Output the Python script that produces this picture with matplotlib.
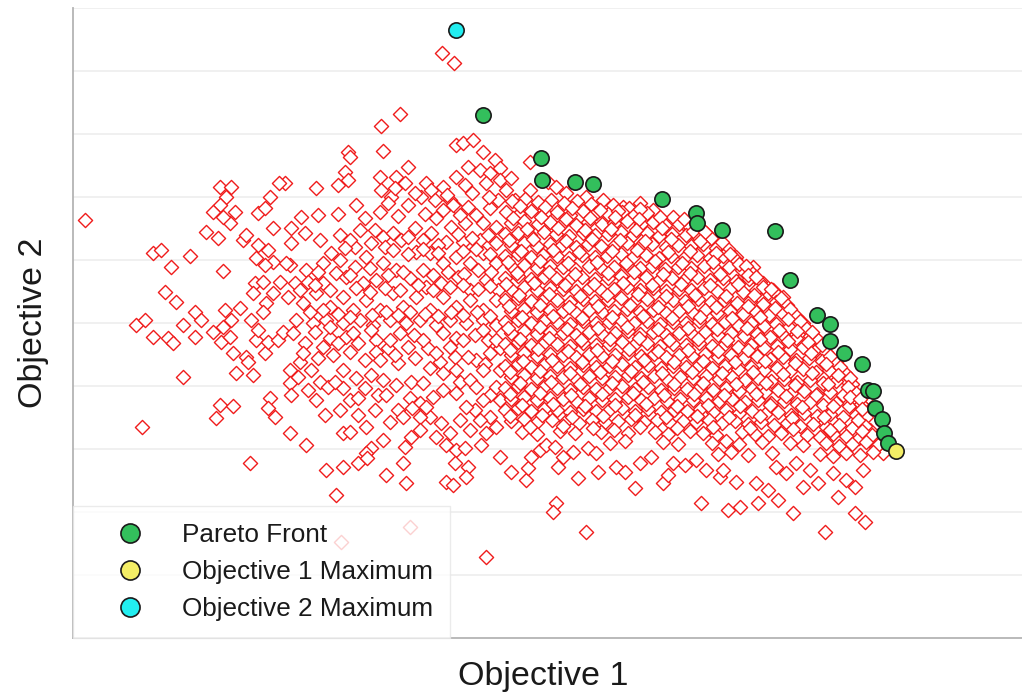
import matplotlib
matplotlib.use("Agg")
import matplotlib.pyplot as plt

# Dominated solutions: (objective 1, objective 2)
dominated = [
    # sparse top and far left
    (442, 647), (454, 637), (400, 586), (381, 574), (383, 549), (348, 548), (350, 543),
    (345, 528), (338, 515), (348, 520), (316, 512), (285, 517), (279, 517), (85, 480),
    # upper middle
    (380, 523), (396, 523), (408, 533), (405, 517), (381, 510), (391, 503), (388, 497),
    (408, 495), (395, 512), (426, 517), (431, 510), (421, 503), (443, 513), (450, 500),
    (456, 493), (435, 500), (456, 555), (463, 557), (473, 560), (483, 548), (495, 540),
    (500, 532), (468, 533), (480, 530), (456, 523), (465, 515), (490, 527), (486, 517),
    (500, 520), (356, 495), (365, 482), (360, 470), (375, 470), (383, 463), (393, 467),
    (415, 472), (431, 467), (423, 460), (443, 490), (453, 495), (468, 493), (476, 485),
    (490, 492), (498, 500), (465, 477), (483, 477), (496, 473), (451, 473), (446, 458),
    (463, 458), (480, 460), (496, 457), (301, 483), (318, 485), (291, 472), (305, 467),
    (320, 460), (291, 457), (355, 453), (371, 457), (385, 453), (401, 460), (416, 448),
    (430, 447), (366, 443), (355, 433), (383, 437), (396, 430), (443, 437), (456, 443),
    (470, 437), (483, 447), (496, 437), (331, 447), (323, 437), (336, 427), (306, 430),
    (290, 435), (295, 417), (308, 418), (323, 417), (346, 423), (363, 417), (376, 420),
    (410, 422), (423, 430), (426, 413), (441, 417), (458, 423), (470, 410), (486, 420),
    (498, 410), (288, 403), (303, 397), (316, 407), (330, 393), (343, 403), (353, 390),
    (366, 400), (380, 390), (393, 407), (403, 393), (416, 403), (430, 390), (443, 403),
    (456, 393), (470, 400), (483, 390), (496, 400), (296, 380), (313, 377), (326, 380),
    (343, 377), (360, 380), (373, 375), (390, 380), (406, 377), (420, 380), (436, 375),
    (450, 380), (466, 377), (483, 380), (496, 375),
    (415, 507), (447, 505), (472, 507), (489, 503), (338, 486), (380, 488), (398, 484),
    (425, 486), (436, 482), (460, 485), (340, 465), (350, 460), (408, 463), (438, 455),
    (458, 466), (472, 462), (488, 465), (345, 452), (393, 450), (408, 446), (423, 451),
    (438, 447), (463, 449), (476, 451), (490, 446), (318, 428), (340, 440), (350, 425),
    (370, 432), (388, 425), (403, 428), (433, 425), (448, 428), (464, 426), (478, 430),
    (491, 428), (300, 410), (315, 415), (330, 410), (356, 412), (370, 408), (385, 412),
    (400, 410), (418, 415), (433, 410), (450, 413), (463, 415), (478, 411), (490, 414),
    (310, 388), (323, 390), (338, 386), (350, 383), (372, 385), (386, 388), (398, 385),
    (410, 388), (425, 386), (438, 384), (451, 388), (463, 385), (477, 388), (490, 384),
    (305, 357), (330, 362), (346, 363), (376, 360), (388, 352), (414, 365), (428, 352),
    (456, 362), (475, 365), (488, 360), (500, 352), (300, 338), (318, 342), (333, 345),
    (350, 348), (376, 348), (398, 337), (415, 342), (440, 338), (455, 343), (476, 340),
    (485, 336), (500, 330), (308, 310), (320, 318), (343, 312), (350, 300), (365, 312),
    (378, 305), (410, 302), (420, 297), (433, 303), (460, 318), (490, 305), (500, 300),
    (340, 290), (358, 285), (375, 290), (390, 278), (412, 292), (430, 283), (460, 280),
    (475, 290), (490, 283),
    # left side
    (220, 513), (231, 513), (226, 503), (220, 495), (213, 488), (235, 488), (230, 477),
    (223, 483), (206, 468), (218, 462), (243, 460), (246, 465), (258, 487), (265, 492),
    (270, 503), (273, 472), (258, 455), (268, 450), (256, 442), (273, 438), (265, 435),
    (286, 437), (153, 447), (161, 450), (171, 433), (190, 444), (223, 429), (255, 417),
    (263, 418), (280, 418), (273, 407), (253, 407), (266, 397), (263, 388), (165, 408),
    (176, 398), (195, 388), (201, 380), (225, 390), (240, 392), (231, 380), (251, 380),
    (136, 375), (145, 380), (183, 375), (153, 363), (168, 362), (173, 357), (195, 363),
    (213, 368), (223, 373), (221, 358), (230, 363), (233, 347), (246, 343), (248, 338),
    (236, 327), (253, 325), (265, 347), (256, 360), (268, 358), (278, 360), (283, 368),
    (258, 370), (183, 323), (220, 295), (233, 294), (216, 282), (270, 302), (268, 292),
    (275, 283), (290, 330), (290, 317), (291, 305), (290, 267), (142, 273), (250, 237),
    # lower middle
    (293, 367), (315, 368), (303, 347), (298, 323), (311, 330), (323, 353), (316, 300),
    (325, 285), (328, 313), (335, 318), (343, 330), (338, 357), (358, 357), (365, 340),
    (356, 322), (358, 302), (371, 325), (383, 320), (380, 340), (390, 360), (400, 367),
    (371, 370), (395, 345), (408, 353), (396, 315), (386, 305), (411, 318), (423, 317),
    (430, 332), (436, 347), (423, 360), (443, 367), (450, 353), (463, 360), (468, 343),
    (443, 327), (456, 330), (443, 310), (456, 307), (470, 320), (476, 313), (483, 330),
    (490, 347), (496, 360), (496, 313), (483, 300), (466, 293), (398, 290), (403, 283),
    (426, 293), (420, 283), (441, 277), (450, 267), (420, 270), (411, 263), (405, 253),
    (436, 263), (456, 250), (465, 252), (446, 255), (470, 270), (480, 280), (486, 267),
    (496, 273), (481, 255), (500, 243), (455, 237), (468, 233), (466, 223), (446, 218),
    (453, 215), (306, 255), (343, 267), (350, 268), (366, 273), (383, 260), (371, 252),
    (366, 247), (358, 237), (343, 233), (326, 230), (386, 225), (406, 217), (403, 237),
    (336, 205), (367, 242), (330, 373), (353, 367), (483, 370), (410, 173), (341, 158),
    (486, 143),
    # lower right scatter
    (511, 228), (526, 220), (528, 232), (531, 243), (540, 250), (546, 255), (555, 253),
    (563, 243), (558, 233), (578, 222), (573, 248), (588, 252), (596, 247), (598, 228),
    (616, 233), (625, 228), (635, 212), (640, 237), (651, 243), (663, 217), (668, 225),
    (673, 237), (685, 235), (696, 240), (706, 230), (701, 197), (556, 197), (553, 188),
    (586, 168), (720, 223), (736, 218), (756, 217), (768, 210), (778, 200), (758, 197),
    (740, 193), (728, 190), (793, 187), (803, 213), (818, 217), (838, 203), (846, 220),
    (855, 213), (855, 187), (865, 178), (825, 168), (863, 230), (833, 227), (786, 227),
    (776, 233), (796, 237), (810, 230), (723, 230),
    # right and upper edge of the cloud
    (846, 320), (860, 293), (870, 270), (883, 247), (876, 253), (868, 303),
    (530, 538), (511, 522), (506, 510), (515, 500), (530, 510), (548, 518), (556, 513),
    (566, 507), (586, 503), (603, 500), (623, 493), (640, 497), (653, 490), (673, 483),
    (683, 477), (706, 467), (720, 457), (736, 443), (753, 433), (743, 423), (763, 417),
    (773, 410), (783, 403), (788, 390), (803, 377),
    # dense core
    (512, 499), (525, 501), (538, 498), (551, 500), (564, 497), (577, 499), (591, 496),
    (613, 495), (629, 492),
    (506, 488), (519, 486), (531, 489), (545, 487), (557, 488), (570, 485), (583, 489),
    (596, 487), (608, 486), (622, 488), (634, 485), (647, 487),
    (511, 477), (524, 479), (538, 476), (550, 478), (563, 477), (576, 475), (588, 478),
    (602, 476), (614, 477), (627, 479), (641, 476), (653, 478), (665, 475), (679, 476),
    (690, 473),
    (505, 466), (518, 467), (530, 465), (544, 468), (556, 466), (569, 464), (583, 467),
    (595, 465), (608, 466), (621, 468), (633, 465), (647, 467), (659, 464), (672, 466),
    (686, 465), (698, 463), (711, 462),
    (511, 455), (524, 457), (537, 454), (550, 456), (562, 455), (576, 453), (588, 456),
    (601, 454), (615, 455), (627, 457), (640, 454), (652, 456), (666, 453), (678, 455),
    (691, 454), (703, 456), (716, 452), (728, 451),
    (505, 444), (518, 446), (531, 443), (543, 445), (557, 444), (569, 442), (582, 445),
    (595, 443), (607, 444), (621, 446), (633, 443), (646, 445), (659, 442), (671, 444),
    (685, 443), (697, 445), (710, 442), (723, 444), (735, 441),
    (512, 433), (524, 435), (537, 432), (550, 434), (563, 433), (575, 431), (589, 434),
    (601, 432), (614, 433), (627, 435), (640, 432), (652, 434), (665, 431), (678, 433),
    (691, 432), (704, 434), (716, 431), (729, 433), (742, 430), (751, 428),
    (505, 422), (518, 424), (531, 421), (544, 423), (556, 422), (569, 420), (582, 423),
    (595, 421), (608, 422), (621, 424), (633, 421), (646, 423), (659, 420), (672, 422),
    (685, 421), (697, 423), (710, 420), (723, 422), (736, 419), (749, 421), (760, 418),
    (511, 411), (524, 413), (537, 410), (550, 412), (563, 411), (576, 409), (589, 412),
    (601, 410), (614, 411), (627, 413), (640, 410), (653, 412), (666, 409), (679, 411),
    (691, 410), (704, 412), (717, 409), (730, 411), (743, 408), (756, 410), (768, 407),
    (777, 405),
    (505, 400), (518, 402), (531, 399), (544, 401), (557, 400), (570, 398), (583, 401),
    (595, 399), (608, 400), (621, 402), (634, 399), (647, 401), (660, 398), (673, 400),
    (685, 399), (698, 401), (711, 398), (724, 400), (737, 397), (750, 399), (763, 396),
    (776, 398), (787, 395),
    (511, 389), (524, 391), (537, 388), (550, 390), (563, 389), (576, 387), (589, 390),
    (602, 388), (614, 389), (627, 391), (640, 388), (653, 390), (666, 387), (679, 389),
    (692, 388), (705, 390), (717, 387), (730, 389), (743, 386), (756, 388), (769, 385),
    (782, 387), (796, 384),
    (505, 378), (518, 380), (531, 377), (544, 379), (557, 378), (570, 376), (583, 379),
    (596, 377), (609, 378), (621, 380), (634, 377), (647, 379), (660, 376), (673, 378),
    (686, 377), (699, 379), (712, 376), (725, 378), (738, 375), (751, 377), (764, 374),
    (776, 376), (789, 373), (806, 372),
    (511, 367), (524, 369), (537, 366), (550, 368), (563, 367), (576, 365), (589, 368),
    (602, 366), (615, 367), (628, 369), (640, 366), (653, 368), (666, 365), (679, 367),
    (692, 366), (705, 368), (718, 365), (731, 367), (744, 364), (757, 366), (770, 363),
    (783, 365), (796, 362), (810, 364), (818, 360),
    (505, 356), (518, 358), (531, 355), (544, 357), (557, 356), (570, 354), (583, 357),
    (596, 355), (609, 356), (622, 358), (634, 355), (647, 357), (660, 354), (673, 356),
    (686, 355), (699, 357), (712, 354), (725, 356), (738, 353), (751, 355), (764, 352),
    (777, 354), (790, 351), (803, 353), (816, 350), (826, 348),
    (511, 345), (524, 347), (537, 344), (550, 346), (563, 345), (576, 343), (589, 346),
    (602, 344), (615, 345), (628, 347), (641, 344), (654, 346), (666, 343), (679, 345),
    (692, 344), (705, 346), (718, 343), (731, 345), (744, 342), (757, 344), (770, 341),
    (783, 343), (796, 340), (809, 342), (822, 339), (836, 338),
    (505, 334), (518, 336), (531, 333), (544, 335), (557, 334), (570, 332), (583, 335),
    (596, 333), (609, 334), (622, 336), (635, 333), (648, 335), (661, 332), (673, 334),
    (686, 333), (699, 335), (712, 332), (725, 334), (738, 331), (751, 333), (764, 330),
    (777, 332), (790, 329), (803, 331), (816, 328), (829, 330), (845, 327),
    (511, 323), (524, 325), (537, 322), (550, 324), (563, 323), (576, 321), (589, 324),
    (602, 322), (615, 323), (628, 325), (641, 322), (654, 324), (667, 321), (680, 323),
    (693, 322), (706, 324), (719, 321), (732, 323), (745, 320), (758, 322), (771, 319),
    (784, 321), (797, 318), (810, 320), (823, 317), (836, 319), (852, 316),
    (505, 312), (518, 314), (531, 311), (544, 313), (557, 312), (570, 310), (583, 313),
    (596, 311), (609, 312), (622, 314), (635, 311), (648, 313), (661, 310), (674, 312),
    (687, 311), (700, 313), (713, 310), (726, 312), (739, 309), (752, 311), (765, 308),
    (778, 310), (791, 307), (804, 309), (817, 306), (830, 308), (843, 305), (856, 307),
    (511, 301), (524, 303), (537, 300), (550, 302), (563, 301), (576, 299), (589, 302),
    (602, 300), (615, 301), (628, 303), (641, 300), (654, 302), (667, 299), (680, 301),
    (693, 300), (706, 302), (719, 299), (732, 301), (745, 298), (758, 300), (771, 297),
    (784, 299), (797, 296), (810, 298), (823, 295), (836, 297), (849, 294), (861, 296),
    (505, 290), (518, 292), (531, 289), (544, 291), (557, 290), (570, 288), (583, 291),
    (596, 289), (609, 290), (622, 292), (635, 289), (648, 291), (661, 288), (674, 290),
    (687, 289), (700, 291), (713, 288), (726, 290), (739, 287), (752, 289), (765, 286),
    (778, 288), (791, 285), (804, 287), (817, 284), (830, 286), (843, 283), (856, 285),
    (866, 283),
    (511, 279), (524, 281), (537, 278), (552, 280), (566, 279), (579, 277), (592, 280),
    (605, 278), (618, 279), (631, 281), (644, 278), (657, 280), (670, 277), (683, 279),
    (696, 278), (709, 280), (722, 277), (735, 279), (748, 276), (761, 278), (774, 275),
    (787, 277), (800, 274), (813, 276), (826, 273), (839, 275), (852, 272), (865, 274),
    (522, 268), (537, 266), (560, 269), (575, 267), (601, 268), (614, 270), (628, 267),
    (655, 268), (668, 266), (690, 269), (703, 267), (716, 265), (742, 268), (755, 266),
    (768, 264), (781, 267), (807, 265), (820, 263), (833, 266), (846, 264), (859, 262),
    (872, 265),
    (610, 257), (625, 259), (663, 258), (678, 256), (712, 257), (726, 259), (739, 256),
    (762, 258), (790, 257), (803, 255), (826, 257), (839, 254), (852, 256), (866, 258),
    (878, 255),
    (718, 246), (731, 248), (748, 245), (772, 247), (820, 246), (833, 244), (846, 247),
    (860, 245), (873, 248),
    # in-between points of the dense core
    (520, 494), (545, 493), (572, 492), (600, 490), (618, 489), (640, 491),
    (513, 482), (541, 483), (566, 481), (590, 482), (615, 483), (639, 481), (660, 483),
    (684, 481), (527, 471), (558, 472), (585, 470), (611, 471), (636, 470), (662, 472),
    (693, 469), (705, 468), (509, 460), (533, 461), (566, 459), (592, 461), (620, 460),
    (645, 459), (671, 461), (700, 459), (722, 458), (521, 449), (553, 450), (579, 448),
    (612, 449), (637, 450), (668, 448), (690, 449), (716, 447), (730, 446), (508, 438),
    (540, 439), (568, 437), (597, 438), (626, 437), (655, 439), (682, 437), (713, 438),
    (739, 436), (746, 434), (517, 427), (549, 428), (575, 426), (608, 427), (634, 428),
    (663, 426), (690, 427), (720, 426), (748, 425), (756, 423), (506, 416), (534, 417),
    (565, 415), (594, 416), (623, 417), (652, 415), (681, 416), (710, 415), (738, 416),
    (763, 413), (771, 411), (519, 405), (549, 406), (580, 404), (607, 405), (638, 406),
    (666, 404), (695, 405), (726, 404), (754, 405), (781, 402), (509, 394), (540, 395),
    (569, 393), (598, 394), (630, 395), (658, 393), (688, 394), (716, 393), (748, 394),
    (775, 392), (790, 391), (522, 383), (553, 384), (582, 382), (612, 383), (643, 384),
    (672, 382), (700, 383), (732, 382), (760, 383), (788, 381), (800, 379), (508, 372),
    (540, 373), (567, 371), (598, 372), (627, 373), (658, 371), (688, 372), (717, 371),
    (747, 372), (779, 370), (797, 369), (812, 368), (520, 361), (549, 362), (581, 360),
    (610, 361), (639, 362), (669, 360), (698, 361), (727, 360), (760, 361), (788, 359),
    (808, 358), (822, 355), (510, 350), (538, 351), (568, 349), (597, 350), (629, 351),
    (658, 349), (688, 350), (718, 349), (748, 350), (778, 348), (811, 347), (830, 344),
    (523, 339), (552, 340), (582, 338), (612, 339), (644, 340), (674, 338), (703, 339),
    (735, 338), (765, 339), (795, 337), (826, 336), (840, 333), (510, 328), (540, 329),
    (570, 327), (600, 328), (631, 329), (662, 327), (692, 328), (722, 327), (753, 328),
    (783, 326), (812, 327), (838, 325), (850, 322), (520, 317), (551, 318), (580, 316),
    (612, 317), (643, 318), (674, 316), (703, 317), (736, 316), (766, 317), (795, 315),
    (828, 316), (848, 313), (510, 306), (540, 307), (571, 305), (602, 306), (633, 307),
    (664, 305), (694, 306), (724, 305), (756, 306), (786, 304), (816, 305), (850, 303),
    (860, 301), (522, 295), (553, 296), (585, 294), (615, 295), (646, 296), (677, 294),
    (708, 295), (740, 294), (770, 295), (802, 293), (833, 294), (862, 291), (510, 284),
    (542, 285), (572, 283), (603, 284), (635, 285), (666, 283), (697, 284), (729, 283),
    (760, 284), (792, 282), (824, 283), (858, 280), (530, 273), (563, 274), (593, 272),
    (640, 273), (677, 272), (713, 273), (750, 272), (793, 271), (830, 270), (862, 269),
]

pareto_obj1 = [483, 541, 542, 575, 593, 662, 696, 697, 722, 775, 790, 817, 830, 830,
               844, 862, 868, 873, 875, 882, 884, 888]
pareto_obj2 = [585, 542, 520, 518, 516, 501, 487, 477, 470, 469, 420, 385, 376, 359,
               347, 336, 310, 309, 292, 281, 267, 257]

obj1_max_x, obj1_max_y = [896], [249]
obj2_max_x, obj2_max_y = [456], [670]

plt.rcParams['font.family'] = ['Liberation Sans', 'DejaVu Sans']

fig = plt.figure(figsize=(10.22, 6.92), dpi=100)
ax = fig.add_axes([73 / 1022, 54 / 692, 949 / 1022, 630 / 692])

dom_x = [p[0] for p in dominated]
dom_y = [p[1] for p in dominated]
ax.scatter(dom_x, dom_y, marker='D', s=52, facecolors='white',
           edgecolors='#f01c1c', linewidths=1.0, zorder=2)

circle = dict(linestyle='none', marker='o', markersize=11.0,
              markeredgecolor='#1a1a1a', markeredgewidth=1.2)
ax.plot(pareto_obj1, pareto_obj2, markerfacecolor='#33bf5c',
        label='Pareto Front', zorder=3, **circle)
ax.plot(obj1_max_x, obj1_max_y, markerfacecolor='#f4ee66',
        label='Objective 1 Maximum', zorder=4, **circle)
ax.plot(obj2_max_x, obj2_max_y, markerfacecolor='#22eef0',
        label='Objective 2 Maximum', zorder=4, **circle)

ax.set_xlim(73, 1022)
ax.set_ylim(62, 692)
ax.set_xticks([])
ax.set_yticks(range(125, 693, 63))
ax.tick_params(axis='y', length=0, labelleft=False)
ax.yaxis.grid(True, color='#eeeeee', linewidth=1.2)
ax.set_axisbelow(True)
for side in ['top', 'right']:
    ax.spines[side].set_visible(False)
for side in ['left', 'bottom']:
    ax.spines[side].set_color('#b4b4b4')
    ax.spines[side].set_linewidth(1.3)

leg = ax.legend(loc='lower left', bbox_to_anchor=(0, 0), borderaxespad=0,
                fontsize=18.8, borderpad=0.65, handlelength=3.1,
                handletextpad=0.42, labelspacing=0.5, markerscale=1.25,
                fancybox=False, edgecolor='#e6e6e6', framealpha=0.8)
leg.get_frame().set_linewidth(1.0)
leg.set_zorder(5)
for t in leg.get_texts():
    t.set_color('#1a1a1a')

fig.text(543 / 1022, 7 / 692, 'Objective 1', fontsize=24.5, color='#1a1a1a',
         ha='center', va='baseline')
fig.text(42 / 1022, (692 - 323) / 692, 'Objective 2', fontsize=24.5, color='#1a1a1a',
         rotation=90, rotation_mode='anchor', ha='center', va='baseline')

fig.savefig('out.png', dpi=100)
